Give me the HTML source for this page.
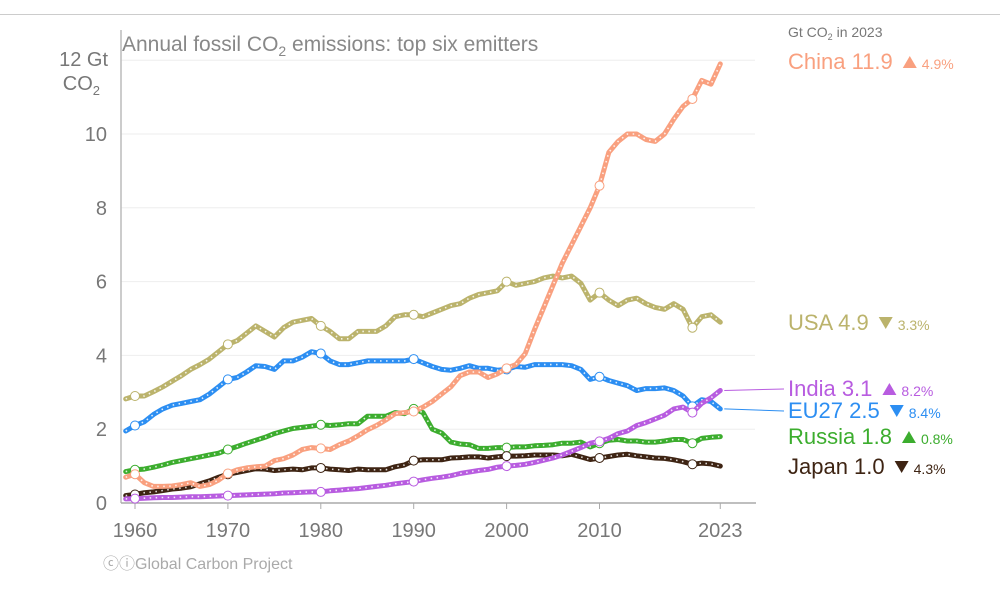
<!DOCTYPE html>
<html><head><meta charset="utf-8"><style>
body{margin:0;background:#fff;font-family:"Liberation Sans",Arial,sans-serif}
svg text{font-family:"Liberation Sans",Arial,sans-serif}
</style></head><body>
<svg id="chart" width="1000" height="587" viewBox="0 0 1000 587" xmlns="http://www.w3.org/2000/svg">
<line x1="0" y1="14.5" x2="1000" y2="14.5" stroke="#ccc"/>
<g id="grid"></g>
<g id="axes"></g>
<g id="series"></g>
<text x="122" y="51" font-size="21" fill="#888">Annual fossil CO<tspan font-size="14" dy="5">2</tspan><tspan dy="-5"> emissions: top six emitters</tspan></text>
<text x="108" y="66" font-size="20" fill="#777" text-anchor="end">12 Gt</text>
<text x="100" y="90" font-size="20" fill="#777" text-anchor="end">CO<tspan font-size="13" dy="5">2</tspan></text>
<text x="788" y="37" font-size="14" fill="#777">Gt CO<tspan font-size="9" dy="3">2</tspan><tspan dy="-3"> in 2023</tspan></text>
<g id="labels"></g>
<text x="103" y="569" font-size="16" fill="#aaa">ⓒⓘGlobal Carbon Project</text>
</svg>
<script>
const years=[];for(let y=1959;y<=2023;y++)years.push(y);
const yTicks=[0,2,4,6,8,10];
const xTicks=[1960,1970,1980,1990,2000,2010,2023];
const china=[.70,.78,.55,.45,.45,.46,.50,.55,.45,.50,.62,.80,.90,.95,.98,1.00,1.15,1.20,1.30,1.45,1.50,1.48,1.45,1.58,1.68,1.82,1.98,2.10,2.25,2.42,2.45,2.48,2.60,2.75,2.95,3.15,3.45,3.55,3.55,3.40,3.50,3.65,3.75,4.05,4.70,5.30,5.90,6.50,7.00,7.50,8.00,8.60,9.50,9.80,10.00,10.00,9.85,9.80,10.00,10.40,10.75,10.95,11.45,11.35,11.9];
const usa=[2.82,2.90,2.90,3.02,3.15,3.30,3.45,3.62,3.75,3.90,4.10,4.30,4.40,4.60,4.80,4.65,4.50,4.75,4.90,4.95,5.00,4.80,4.65,4.45,4.45,4.65,4.65,4.65,4.80,5.05,5.10,5.10,5.05,5.15,5.25,5.35,5.40,5.55,5.65,5.70,5.75,6.00,5.90,5.95,6.00,6.10,6.15,6.10,6.15,5.95,5.50,5.70,5.50,5.35,5.50,5.55,5.40,5.30,5.25,5.40,5.25,4.75,5.05,5.10,4.9];
const eu27=[1.95,2.10,2.20,2.40,2.55,2.65,2.70,2.75,2.80,2.95,3.15,3.35,3.40,3.55,3.72,3.70,3.62,3.85,3.85,3.95,4.10,4.05,3.85,3.75,3.75,3.80,3.85,3.85,3.85,3.85,3.85,3.90,3.80,3.70,3.62,3.60,3.65,3.72,3.65,3.65,3.60,3.62,3.70,3.68,3.75,3.75,3.75,3.75,3.72,3.62,3.35,3.42,3.32,3.25,3.18,3.05,3.10,3.10,3.12,3.05,2.90,2.62,2.80,2.75,2.55];
const russia=[.85,.90,.92,.97,1.03,1.10,1.15,1.20,1.25,1.30,1.35,1.45,1.53,1.62,1.70,1.78,1.88,1.95,2.02,2.05,2.08,2.12,2.10,2.12,2.15,2.15,2.35,2.35,2.35,2.45,2.42,2.55,2.45,2.00,1.90,1.65,1.60,1.58,1.48,1.48,1.50,1.50,1.52,1.52,1.55,1.56,1.58,1.62,1.62,1.65,1.52,1.62,1.70,1.72,1.68,1.68,1.65,1.65,1.68,1.72,1.72,1.62,1.75,1.78,1.8];
const japan=[.20,.23,.28,.30,.34,.38,.40,.44,.52,.60,.70,.78,.83,.88,.93,.92,.88,.90,.92,.90,.95,.95,.92,.90,.88,.92,.90,.90,.90,.98,1.03,1.15,1.17,1.17,1.17,1.22,1.23,1.25,1.25,1.22,1.25,1.27,1.27,1.28,1.30,1.30,1.30,1.28,1.32,1.25,1.18,1.22,1.26,1.30,1.32,1.28,1.25,1.22,1.21,1.17,1.12,1.05,1.08,1.06,1.0];
const india=[.11,.12,.13,.14,.15,.15,.16,.17,.17,.18,.19,.20,.21,.22,.23,.24,.25,.27,.28,.29,.30,.30,.33,.35,.37,.39,.42,.45,.48,.52,.55,.58,.63,.67,.70,.74,.80,.84,.88,.91,.97,1.00,1.02,1.05,1.10,1.16,1.22,1.30,1.40,1.50,1.62,1.67,1.75,1.88,1.95,2.10,2.18,2.28,2.38,2.55,2.60,2.45,2.70,2.85,3.05];
const names=["China","USA","India","EU27","Russia","Japan"];
const last=["11.9","4.9","3.1","2.5","1.8","1.0"];
const changes=["4.9%","3.3%","8.2%","8.4%","0.8%","4.3%"];
const up=[true,false,true,false,true,false];

const NS="http://www.w3.org/2000/svg";
const X=y=>135+(y-1960)*9.29;
const Y=v=>503-v*36.9;
function mk(tag,attrs,parent){const e=document.createElementNS(NS,tag);for(const k in attrs)e.setAttribute(k,attrs[k]);parent.appendChild(e);return e;}
const grid=document.getElementById('grid'),axes=document.getElementById('axes'),ser=document.getElementById('series'),lab=document.getElementById('labels');
[2,4,6,8,10,12].forEach(v=>{const l=mk('line',{x1:121,x2:755,y1:Y(v),y2:Y(v),stroke:'#eee'},grid);

});
yTicks.forEach(v=>{const t=mk('text',{x:107,y:Y(v)+7,'font-size':20,fill:'#777','text-anchor':'end'},axes);t.textContent=v;

});
const ya=mk('line',{x1:121,x2:121,y1:30,y2:503,stroke:'#bbb','stroke-width':1.5},axes);


const xa=mk('line',{x1:121,x2:756,y1:503,y2:503,stroke:'#aaa','stroke-width':1.5},axes);


xTicks.forEach(y=>{const tk=mk('line',{x1:X(y),x2:X(y),y1:503,y2:509,stroke:'#aaa'},axes);


const t=mk('text',{x:X(y),y:537,'font-size':20,fill:'#777','text-anchor':'middle'},axes);t.textContent=y;

});
const all=[[china,'#f9a07f'],[usa,'#bbb36c'],[india,'#b85ce0'],[eu27,'#2c8ef2'],[russia,'#3cad2e'],[japan,'#3e2413']];
const drawOrder=[1,3,4,5,2,0];
drawOrder.forEach(i=>{const [d,c]=all[i];
const pts=d.map((v,j)=>Math.max(121,X(years[j])).toFixed(1)+','+Y(v).toFixed(1)).join(' ');
const g=mk('g',{},ser);


mk('polyline',{points:pts,fill:'none',stroke:c,'stroke-width':5,'stroke-linejoin':'round','stroke-linecap':'round'},g);
mk('polyline',{points:pts,fill:'none',stroke:'#fff','stroke-width':1.6,'stroke-dasharray':'1.5 4.5','stroke-opacity':0.85},g);
[1960,1970,1980,1990,2000,2010,2020].forEach(y=>{const j=y-1959;const p=mk('circle',{cx:X(y),cy:Y(d[j]),r:4.5,fill:'#fff',stroke:c,'stroke-width':1},g);

});
});
const ly=[69,330,396,418,444,474];
ly.forEach((yy,i)=>{const c=all[i][1];
const g=mk('g',{},lab);


if(i==2||i==3){const ev=i==2?india[64]:eu27[64];mk('line',{x1:X(2023)+4,y1:Y(ev),x2:784,y2:yy-7,stroke:c,'stroke-width':1},g);}
const t=mk('text',{x:788,y:yy,'font-size':22,fill:c},g);t.textContent=names[i]+' '+last[i];
const w=t.getComputedTextLength();
const tx=788+w+10;
const tri=up[i]?`${tx},${yy-1} ${tx+14},${yy-1} ${tx+7},${yy-13}`:`${tx},${yy-13} ${tx+14},${yy-13} ${tx+7},${yy-1}`;
mk('polygon',{points:tri,fill:c},g);
const p=mk('text',{x:tx+19,y:yy,'font-size':14,fill:c},g);p.textContent=changes[i];});
</script>
</body></html>
